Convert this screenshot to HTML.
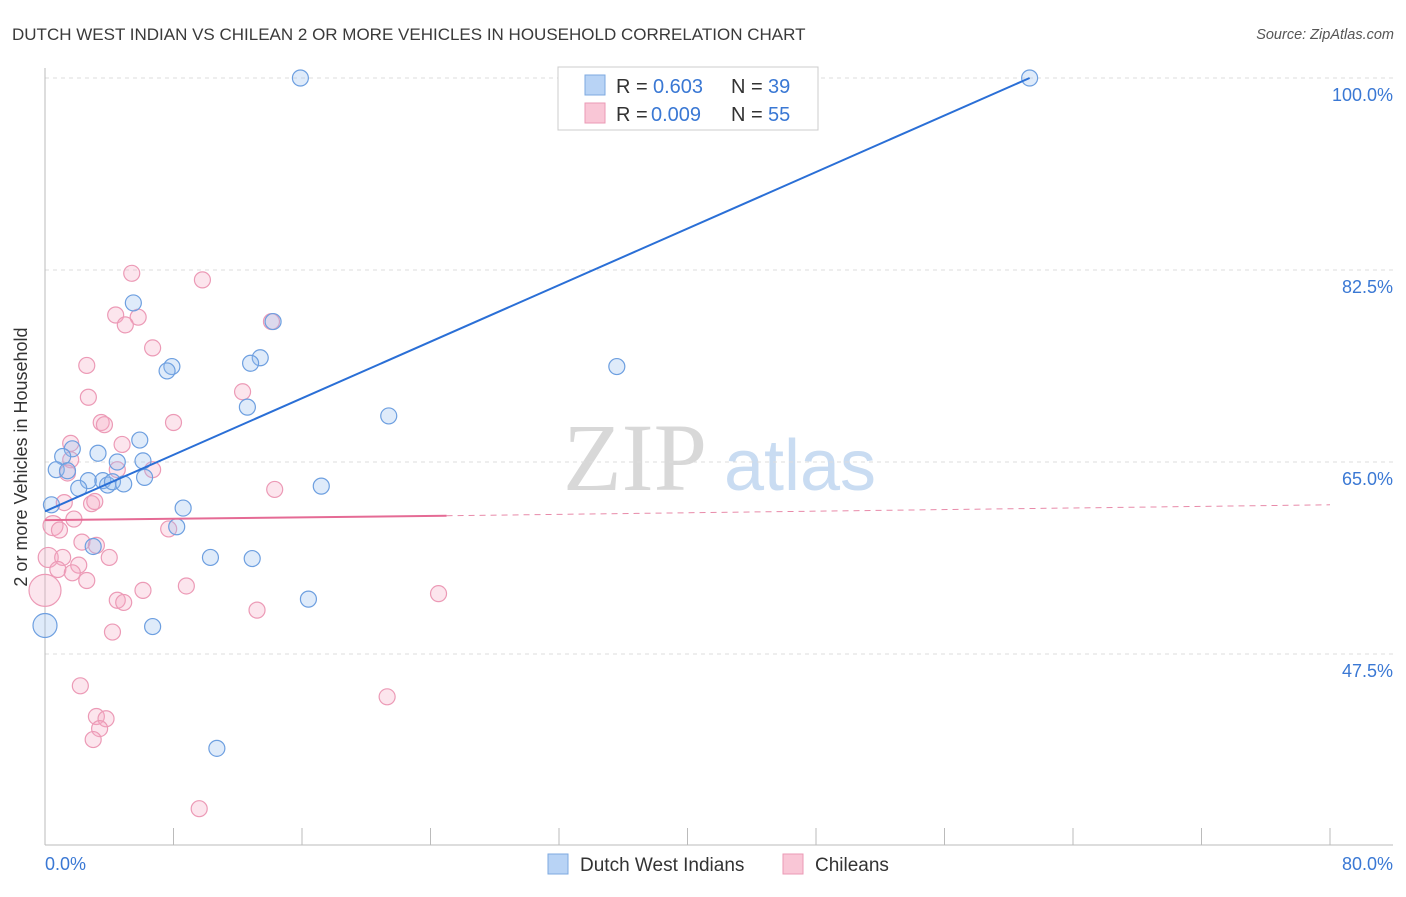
<!DOCTYPE html>
<html><head><meta charset="utf-8"><style>
body{margin:0;background:#fff;font-family:"Liberation Sans",sans-serif;}
svg text{font-family:"Liberation Sans",sans-serif;}
</style></head><body>
<svg id="c" width="1406" height="892">
<text x="12" y="40" font-size="17" fill="#3a3a3a">DUTCH WEST INDIAN VS CHILEAN 2 OR MORE VEHICLES IN HOUSEHOLD CORRELATION CHART</text>
<text x="1394" y="39" font-size="14.5" fill="#555" text-anchor="end" font-style="italic">Source: ZipAtlas.com</text>
<text x="27" y="457" font-size="18" fill="#333" text-anchor="middle" transform="rotate(-90 27 457)">2 or more Vehicles in Household</text>
<g>
<text x="635" y="490" font-size="96" fill="#d8d8d8" text-anchor="middle" font-family="Liberation Serif" style="font-family:'Liberation Serif',serif">ZIP</text>
<text x="800" y="490" font-size="72" fill="#c9dcf2" text-anchor="middle">atlas</text>
</g>
<g id="grid"></g><g id="axes"></g><g id="pts"></g><g id="lines"></g>
<g>
<rect x="558" y="67" width="260" height="63" fill="#fff" stroke="#ccc"/>
<rect x="585" y="75" width="20" height="20" fill="#b8d3f5" stroke="#7ea9e0"/>
<rect x="585" y="103" width="20" height="20" fill="#f9c6d6" stroke="#eb9ab5"/>
<text x="616" y="93" font-size="20" fill="#333">R =</text>
<text x="653" y="93" font-size="20" fill="#3a78d4">0.603</text>
<text x="731" y="93" font-size="20" fill="#333">N =</text>
<text x="768" y="93" font-size="20" fill="#3a78d4">39</text>
<text x="616" y="121" font-size="20" fill="#333">R =</text>
<text x="651" y="121" font-size="20" fill="#3a78d4">0.009</text>
<text x="731" y="121" font-size="20" fill="#333">N =</text>
<text x="768" y="121" font-size="20" fill="#3a78d4">55</text>
</g>
<g>
<rect x="548" y="854" width="20" height="20" fill="#b8d3f5" stroke="#7ea9e0"/>
<text x="580" y="871" font-size="19" fill="#333">Dutch West Indians</text>
<rect x="783" y="854" width="20" height="20" fill="#f9c6d6" stroke="#eb9ab5"/>
<text x="815" y="871" font-size="19" fill="#333">Chileans</text>
</g>
</svg>
<script>
const yTicks=[47.5,65,82.5,100];
const yTickLabels=["47.5%","65.0%","82.5%","100.0%"];
const xTicks=[0,8,16,24,32,40,48,56,64,72,80];
const blueX=[15.9,61.3,5.5,7.9,7.6,13.4,12.8,35.6,12.6,21.4,5.9,1.7,3.3,1.1,6.1,0.7,1.4,4.5,6.2,2.7,3.6,3.9,4.2,4.9,2.1,17.2,8.6,0.4,8.2,3.0,10.3,12.9,16.4,6.7,0,10.7,34.6,14.2];
const blueY=[100,100,79.5,73.7,73.3,74.5,74.0,73.7,70.0,69.2,67.0,66.2,65.8,65.5,65.1,64.3,64.2,65.0,63.6,63.3,63.3,62.9,63.2,63.0,62.6,62.8,60.8,61.1,59.1,57.3,56.3,56.2,52.5,50.0,50.1,38.9,100,77.8];
const blueR=[8,8,8,8,8,8,8,8,8,8,8,8,8,8,8,8,8,8,8,8,8,8,8,8,8,8,8,8,8,8,8,8,8,8,12,8,8,8];
const pinkX=[5.4,9.8,4.4,5.8,5.0,14.1,6.7,2.6,2.7,12.3,8.0,3.5,3.7,1.6,4.8,1.6,6.7,4.5,1.4,14.3,1.2,2.9,3.1,1.8,0.5,0.9,7.7,2.3,3.2,4.0,0.2,1.1,0.8,2.1,1.7,2.6,0,6.1,8.8,4.5,4.9,13.2,24.5,4.2,2.2,21.3,3.2,3.8,3.4,3.0,9.6];
const pinkY=[82.2,81.6,78.4,78.2,77.5,77.8,75.4,73.8,70.9,71.4,68.6,68.6,68.4,66.7,66.6,65.2,64.3,64.3,64.0,62.5,61.3,61.2,61.4,59.8,59.2,58.8,58.9,57.7,57.4,56.3,56.3,56.3,55.2,55.6,54.9,54.2,53.3,53.3,53.7,52.4,52.2,51.5,53.0,49.5,44.6,43.6,41.8,41.6,40.7,39.7,33.4];
const pinkR=[8,8,8,8,8,8,8,8,8,8,8,8,8,8,8,8,8,8,8,8,8,8,8,8,10,8,8,8,8,8,10,8,8,8,8,8,16,8,8,8,8,8,8,8,8,8,8,8,8,8,8];
const blueFit=[[0,60.5],[61.3,100]];
const pinkFit=[[0,59.7],[25,60.1],[80,61.1]];
const X=v=>45+v*16.0625, Y=v=>462-(v-65)*192/17.5;
const NS="http://www.w3.org/2000/svg";
function mk(t,a,p){const e=document.createElementNS(NS,t);for(const k in a)e.setAttribute(k,a[k]);p.appendChild(e);return e;}
const grid=document.getElementById('grid'),axes=document.getElementById('axes'),pts=document.getElementById('pts'),lines=document.getElementById('lines');
yTicks.forEach((t,i)=>{
 const l=mk('line',{x1:45,x2:1393,y1:Y(t),y2:Y(t),stroke:'#ddd','stroke-dasharray':'4 4'},grid);
 
 
 const tx=mk('text',{x:1393,y:Y(t)+23,'font-size':18,fill:'#3a78d4','text-anchor':'end'},axes);
 tx.textContent=yTickLabels[i];
 
 
});
mk('line',{x1:45,x2:45,y1:68,y2:845,stroke:'#bbb'},axes);
mk('line',{x1:45,x2:1393,y1:845,y2:845,stroke:'#bbb'},axes);
xTicks.forEach(t=>{
 const l=mk('line',{x1:X(t),x2:X(t),y1:828,y2:845,stroke:'#bbb'},axes);
 
 
});
const x0=mk('text',{x:45,y:870,'font-size':18,fill:'#3a78d4'},axes);x0.textContent='0.0%';


const x1=mk('text',{x:1393,y:870,'font-size':18,fill:'#3a78d4','text-anchor':'end'},axes);x1.textContent='80.0%';


pinkX.forEach((v,i)=>{
 const c=mk('circle',{cx:X(v),cy:Y(pinkY[i]),r:pinkR[i],fill:'rgba(245,170,195,0.3)',stroke:'#ec9ab6','stroke-width':1.2},pts);
 
 
});
blueX.forEach((v,i)=>{
 const c=mk('circle',{cx:X(v),cy:Y(blueY[i]),r:blueR[i],fill:'rgba(150,190,240,0.3)',stroke:'#6d9fe0','stroke-width':1.2},pts);
 
 
});
const bl=mk('line',{x1:X(blueFit[0][0]),y1:Y(blueFit[0][1]),x2:X(blueFit[1][0]),y2:Y(blueFit[1][1]),stroke:'#2a6fd6','stroke-width':2},lines);


const pl=mk('line',{x1:X(pinkFit[0][0]),y1:Y(pinkFit[0][1]),x2:X(pinkFit[1][0]),y2:Y(pinkFit[1][1]),stroke:'#e56b95','stroke-width':2},lines);


const pd=mk('line',{x1:X(pinkFit[1][0]),y1:Y(pinkFit[1][1]),x2:X(pinkFit[2][0]),y2:Y(pinkFit[2][1]),stroke:'#e88aa9','stroke-width':1,'stroke-dasharray':'6 5'},lines);


</script>
</body></html>
